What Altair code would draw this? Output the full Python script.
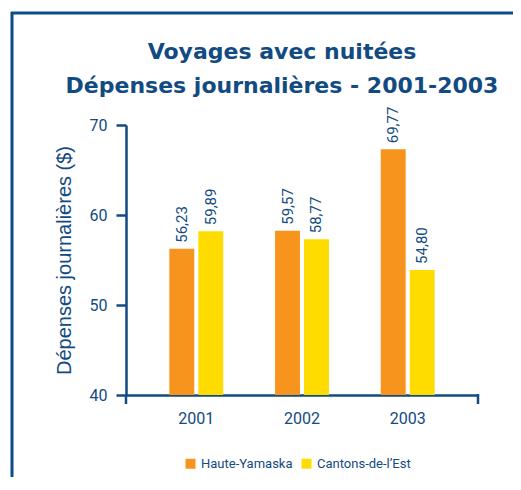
import altair as alt
import pandas as pd

# Data
years = ["2001", "2002", "2003"]
series = ["Haute-Yamaska", "Cantons-de-l’Est"]
haute_yamaska = [56.25, 58.25, 67.3]     # bar heights as drawn
cantons_est = [58.2, 57.3, 53.9]        # bar heights as drawn
haute_labels = ["56,23", "59,57", "69,77"]
cantons_labels = ["59,89", "58,77", "54,80"]
y_ticks = [40, 50, 60, 70]
title_lines = ["Voyages avec nuitées", "Dépenses journalières - 2001-2003"]

rows = []
for i, y in enumerate(years):
    rows.append({"year": y, "serie": series[0], "value": haute_yamaska[i], "label": haute_labels[i]})
    rows.append({"year": y, "serie": series[1], "value": cantons_est[i], "label": cantons_labels[i]})
df = pd.DataFrame(rows)

BLUE = "#124a82"
COND = "Roboto"
W, H = 352, 270

x_enc = alt.X("year:N", sort=years, title=None,
              scale=alt.Scale(paddingInner=0.49, paddingOuter=0.41),
              axis=alt.Axis(labelAngle=0, ticks=False, labelPadding=15,
                            labelFont=COND, labelFontSize=16, labelColor=BLUE,
                            domainColor=BLUE, domainWidth=2.5))
xoff_enc = alt.XOffset("serie:N", sort=series,
                       scale=alt.Scale(paddingInner=0.14, paddingOuter=0))
y_enc = alt.Y("value:Q",
              scale=alt.Scale(domain=[40, 70], zero=False, nice=False),
              axis=alt.Axis(values=y_ticks, grid=False, title="Dépenses journalières ($)",
                            titleFont="Liberation Sans", titleFontSize=20,
                            titleFontWeight="normal", titleColor=BLUE,
                            titleX=-52, titleY=H / 2, titleAlign="center",
                            titleAngle=270, titleBaseline="bottom",
                            labelFont=COND, labelFontSize=16, labelColor=BLUE,
                            labelPadding=9, tickSize=10, tickWidth=2.5,
                            tickColor=BLUE, domainColor=BLUE, domainWidth=2.5))

bars = alt.Chart(df).mark_bar(clip=True).encode(
    x=x_enc, xOffset=xoff_enc, y=y_enc,
    color=alt.Color("serie:N", sort=series,
                    scale=alt.Scale(domain=series, range=["#F7941D", "#FFDC00"]),
                    legend=alt.Legend(title=None, orient="none", direction="horizontal",
                                      legendX=58, legendY=332, symbolType="square",
                                      symbolSize=100, symbolStrokeWidth=0,
                                      symbolOpacity=1, labelFont=COND,
                                      labelFontSize=13, labelColor=BLUE,
                                      labelOffset=4, columnPadding=7, padding=0)),
)

labels = alt.Chart(df).mark_text(angle=270, align="left", baseline="middle", dx=6,
                                 font=COND, fontSize=15, color=BLUE).encode(
    x=alt.X("year:N", sort=years), xOffset=alt.XOffset("serie:N", sort=series),
    y=alt.Y("value:Q"), text="label:N")

one = alt.Data(values=[{"a": 1}])
left_ext = alt.Chart(one).mark_rule(color=BLUE, strokeWidth=2.5).encode(
    x=alt.value(0), y=alt.value(H), y2=alt.value(H + 9))
right_ext = alt.Chart(one).mark_rule(color=BLUE, strokeWidth=2.5).encode(
    x=alt.value(W), y=alt.value(H - 1), y2=alt.value(H + 9))
frame_top = alt.Chart(one).mark_rule(color="#0e4c86", strokeWidth=3).encode(
    x=alt.value(-115), x2=alt.value(W + 40), y=alt.value(-112))
frame_left = alt.Chart(one).mark_rule(color="#0e4c86", strokeWidth=3).encode(
    x=alt.value(-114), y=alt.value(-113), y2=alt.value(H + 90))

title1 = alt.Chart(alt.Data(values=[{"t": title_lines[0]}])).mark_text(
    font="DejaVu Sans", fontSize=22, fontWeight="bold", color=BLUE,
    align="center", baseline="alphabetic").encode(
    x=alt.value(W / 2 - 20), y=alt.value(-66.5), text="t:N")
title2 = alt.Chart(alt.Data(values=[{"t": title_lines[1]}])).mark_text(
    font="DejaVu Sans", fontSize=22, fontWeight="bold", color=BLUE,
    align="center", baseline="alphabetic").encode(
    x=alt.value(W / 2 - 20), y=alt.value(-32), text="t:N")

chart = alt.layer(bars, labels, left_ext, right_ext, frame_top, frame_left,
                  title1, title2).properties(
    width=W, height=H,
    autosize=alt.AutoSizeParams(type="none"),
    padding={"left": 118, "top": 117, "right": 35, "bottom": 82},
).configure_view(stroke=None).configure_axis(labelFontWeight="normal")

chart.save("out.html", embed_options={"renderer": "svg", "actions": False})
